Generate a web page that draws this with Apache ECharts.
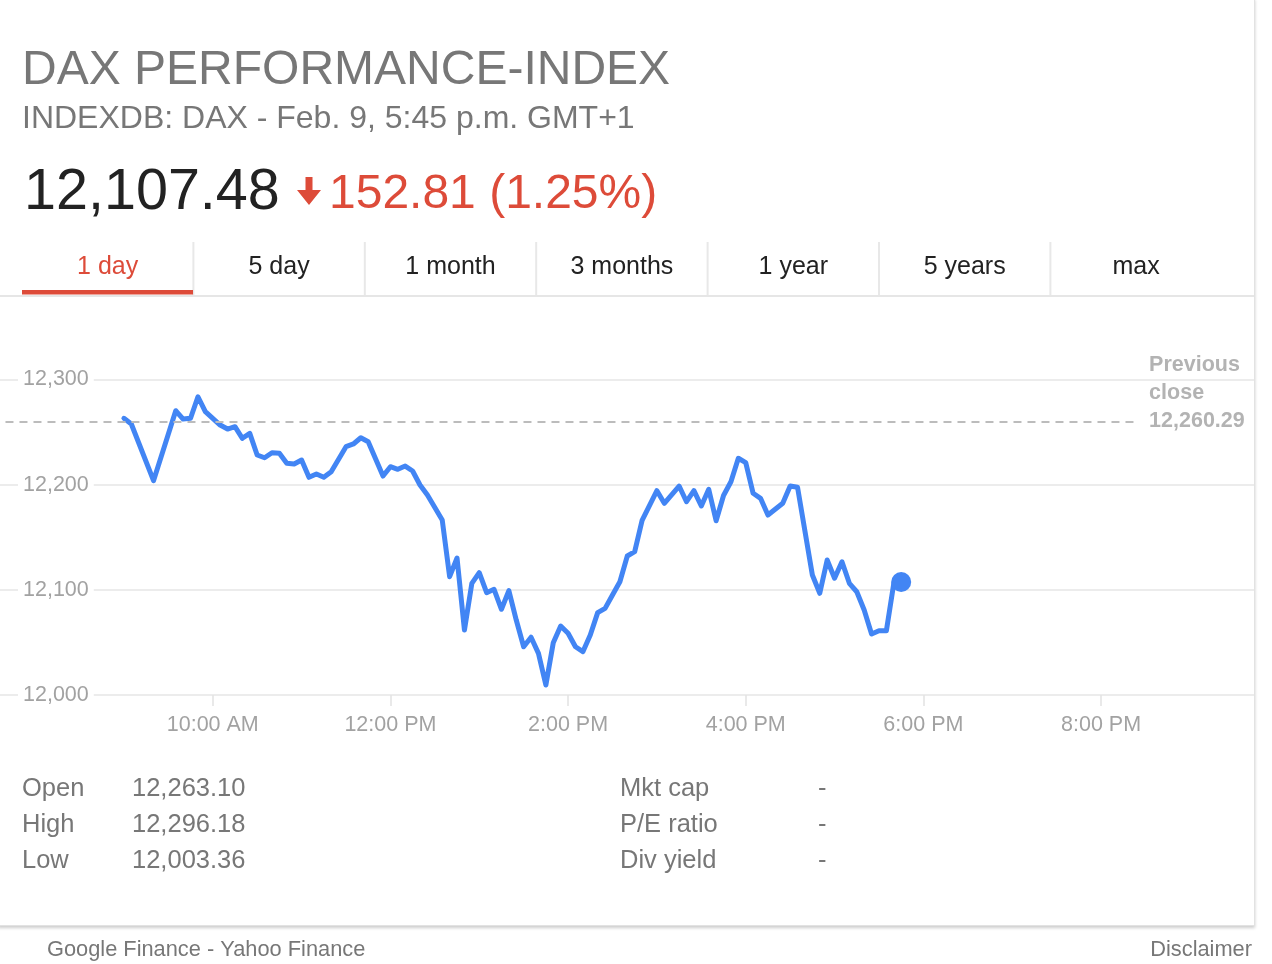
<!DOCTYPE html>
<html><head><meta charset="utf-8">
<script src="https://cdn.jsdelivr.net/npm/echarts@6/dist/echarts.min.js"></script>
<style>
html,body{margin:0;padding:0;background:#fff;width:1272px;height:964px;overflow:hidden}
#card{position:absolute;left:-2px;top:-2px;width:1257px;height:928px;border:1px solid #e2e2e2;box-shadow:0 2px 3px rgba(0,0,0,0.2);background:#fff;box-sizing:border-box}
#chart{position:absolute;left:0;top:0;width:1272px;height:964px}
</style></head><body>
<div id="card"></div>
<div id="chart"></div>
<script>
// ---- data ----
const times = [540,545,560,575,580,585,590,595,605,610,615,620,625,630,635,640,645,650,655,660,665,670,675,680,690,695,700,705,715,720,725,730,735,740,745,755,760,765,770,775,780,785,790,795,800,805,810,815,820,825,830,835,840,845,850,855,860,865,870,875,880,885,890,900,905,915,920,925,930,935,940,945,950,955,960,965,970,975,985,990,995,1005,1010,1015,1020,1025,1030,1035,1040,1045,1050,1055,1060,1065];
const values = [12263.1,12257.7,12203.8,12270.3,12262.4,12263.1,12283.6,12269.4,12256.7,12252.9,12255.1,12244.1,12248.8,12228.2,12225.6,12230.4,12229.8,12220.3,12219.6,12223.4,12207.0,12210.1,12207.0,12212.3,12236.1,12238.7,12244.6,12240.8,12208.2,12217.1,12214.6,12217.7,12213.0,12199.7,12190.2,12166.4,12112.5,12130.3,12061.8,12106.2,12116.3,12097.3,12100.5,12081.5,12099.2,12071.3,12045.9,12054.9,12039.6,12009.5,12049.7,12065.6,12058.7,12045.9,12041.2,12057.0,12078.3,12082.4,12095.1,12107.7,12132.2,12136.3,12166.0,12194.3,12182.3,12198.7,12183.8,12194.3,12179.7,12195.6,12165.7,12189.7,12202.8,12225.1,12220.9,12191.8,12187.0,12171.1,12182.3,12198.7,12197.5,12114.1,12096.7,12128.4,12111.0,12126.7,12106.2,12098.2,12080.8,12058.0,12061.1,12061.1,12106.2,12107.48];
const prevClose = 12260.29;
const prevCloseSpan = [460, 1223];          // minutes where the dashed line starts / ends
const xRange = [456.3, 1303.3];              // minutes shown on the time axis
const xTickMinutes = [600, 720, 840, 960, 1080, 1200];
const xTickLabels = ['10:00 AM', '12:00 PM', '2:00 PM', '4:00 PM', '6:00 PM', '8:00 PM'];
const yTicks = [12000, 12100, 12200, 12300];
const tabLabels = ['1 day', '5 day', '1 month', '3 months', '1 year', '5 years', 'max'];
const statLabels = ['Open', 'High', 'Low'];
const statValues = ['12,263.10', '12,296.18', '12,003.36'];
const ratioLabels = ['Mkt cap', 'P/E ratio', 'Div yield'];
const ratioValues = ['-', '-', '-'];
const titleText = 'DAX PERFORMANCE-INDEX';
const subtitleText = 'INDEXDB: DAX - Feb. 9, 5:45 p.m. GMT+1';
const priceText = '12,107.48';
const changeText = '152.81 (1.25%)';
const footerLeft = 'Google Finance - Yahoo Finance';
const footerRight = 'Disclaimer';

// ---- chart ----
const FF = '"Liberation Sans", Arial, Helvetica, sans-serif';
const BLUE = '#4285f4', RED = '#dd4b39', GREY = '#777777', AXIS_GREY = '#a2a2a2';
const fmt = v => v.toLocaleString('en-US', {minimumFractionDigits: 2, maximumFractionDigits: 2});
const linePoints = times.map((t, i) => [t, values[i]]);
const last = linePoints[linePoints.length - 1];

const g = [];
function txt(x, y, text, size, color, opts) {
  g.push(Object.assign({type: 'text', x: x, y: y, silent: true, z: 100,
    style: Object.assign({text: text, fontSize: size, fontFamily: FF, fill: color,
      align: 'left', verticalAlign: 'middle'}, (opts || {}))}));
}
txt(22, 70.5, titleText, 48, GREY);
txt(22, 119, subtitleText, 32, GREY);
txt(24, 193.5, priceText, 57.5, '#222222');
txt(329, 195, changeText, 48, RED);
g.push({type: 'polygon', silent: true, z: 100,
  shape: {points: [[305.5,177],[312.5,177],[312.5,190],[321,190],[309,205],[297,190],[305.5,190]]},
  style: {fill: RED}});
// tabs
const tabW = 171.4, tabX0 = 22;
tabLabels.forEach((t, i) => {
  txt(tabX0 + tabW * (i + 0.5), 267.5, t, 25, i === 0 ? RED : '#222222', {align: 'center'});
  if (i > 0) g.push({type: 'line', silent: true, z: 100,
    shape: {x1: tabX0 + tabW * i, y1: 242, x2: tabX0 + tabW * i, y2: 295},
    style: {stroke: '#e8e8e8', lineWidth: 2}});
});
g.push({type: 'line', silent: true, z: 99, shape: {x1: 0, y1: 296, x2: 1254, y2: 296},
  style: {stroke: '#e6e6e6', lineWidth: 2}});
g.push({type: 'rect', silent: true, z: 100, shape: {x: 22, y: 290, width: 171, height: 4.5},
  style: {fill: RED}});
// stats
statLabels.forEach((t, i) => {
  const y = 789 + i * 36;
  txt(22, y, t, 25.5, GREY);
  txt(132, y, statValues[i], 25.5, GREY);
  txt(620, y, ratioLabels[i], 25.5, GREY);
  txt(818, y, ratioValues[i], 25.5, GREY);
});
txt(47, 950, footerLeft, 21.8, GREY);
txt(1252, 950, footerRight, 21.8, GREY, {align: 'right'});

const chart = echarts.init(document.getElementById('chart'), null, {renderer: 'canvas'});
chart.setOption({
  animation: false,
  backgroundColor: 'transparent',
  grid: {left: 0, right: 18, top: 379.5, bottom: 269, containLabel: false},
  xAxis: {
    type: 'value', min: xRange[0], max: xRange[1], z: 0,
    axisLine: {show: false},
    splitLine: {show: false},
    axisTick: {show: true, customValues: xTickMinutes, length: 11, lineStyle: {color: '#e2e2e2', width: 1.5}},
    axisLabel: {show: true, customValues: xTickMinutes, margin: 19, fontSize: 21.5, fontFamily: FF, color: AXIS_GREY,
      formatter: v => xTickLabels[xTickMinutes.indexOf(Math.round(v))] || ''}
  },
  yAxis: [{
    type: 'value', min: yTicks[0], max: yTicks[yTicks.length - 1], interval: 100, z: 0,
    axisLine: {show: false}, axisTick: {show: false}, axisLabel: {show: false},
    splitLine: {show: true, lineStyle: {color: '#ececec', width: 2}}
  }, {
    type: 'value', min: yTicks[0], max: yTicks[yTicks.length - 1], interval: 100, z: 5, position: 'left',
    axisLine: {show: false}, axisTick: {show: false}, splitLine: {show: false},
    axisLabel: {inside: true, margin: 18, fontSize: 21.5, fontFamily: FF, color: AXIS_GREY,
      backgroundColor: '#ffffff', padding: [4, 5, 0, 5],
      formatter: v => v.toLocaleString('en-US')}
  }],
  graphic: g,
  series: [{
    type: 'line', data: linePoints, showSymbol: false, symbol: 'none', z: 3,
    lineStyle: {color: BLUE, width: 5, join: 'round', cap: 'round'},
    markLine: {
      silent: true, symbol: 'none',
      lineStyle: {color: '#bcbcbc', width: 2, type: [8, 6]},
      label: {show: true, position: 'end', distance: 14,
        formatter: 'Previous\nclose\n' + fmt(prevClose) + '\n\u00a0\n\u00a0',
        fontFamily: FF, fontSize: 21.5, fontWeight: 'bold', color: '#b3b3b3', lineHeight: 28,
        align: 'left', verticalAlign: 'middle', padding: [4, 0, 0, 0]},
      data: [[{coord: [prevCloseSpan[0], prevClose]}, {coord: [prevCloseSpan[1], prevClose]}]]
    }
  }, {
    type: 'scatter', data: [last], symbol: 'circle', symbolSize: 20, z: 4,
    itemStyle: {color: BLUE, opacity: 1}
  }]
});
</script></body></html>
